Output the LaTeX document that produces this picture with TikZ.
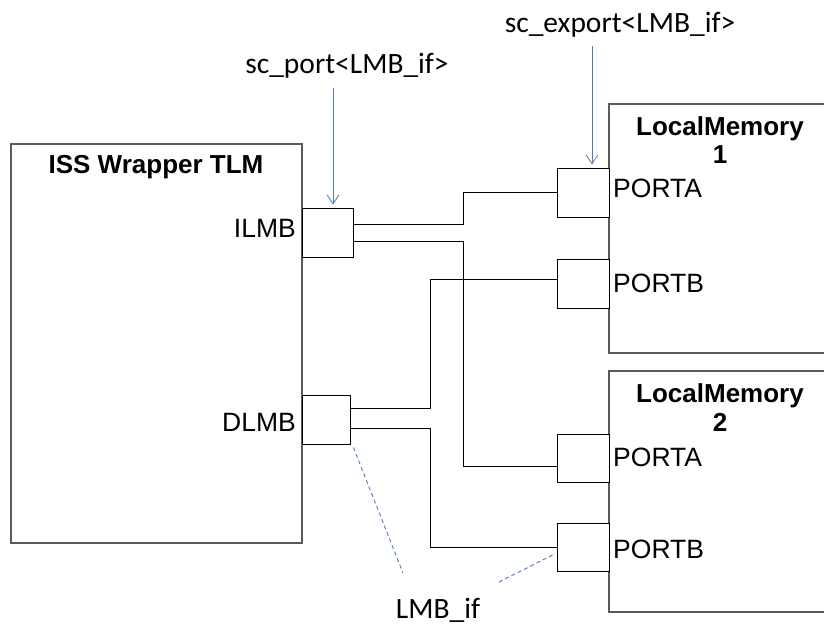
\documentclass[tikz,border=0pt]{standalone}
\usepackage{fontspec}
\setmainfont{Liberation Sans}
\newfontfamily\calfont{Carlito}
\usetikzlibrary{arrows.meta,calc}
\definecolor{boxgray}{HTML}{5A5A5A}
\definecolor{noteblue}{HTML}{4A7EBB}
\tikzset{
  block/.style={draw=boxgray, line width=1.3pt, fill=white, inner sep=0pt, rectangle},
  portbox/.style={draw=black, line width=0.9pt, fill=white, inner sep=0pt, rectangle,
                  minimum width=52pt, minimum height=49pt},
  wire/.style={draw=black, line width=0.9pt},
  pointer/.style={draw=noteblue, line width=0.8pt, shorten >=3pt,
                  -{Straight Barb[length=9pt,width=12pt]}},
  hint/.style={draw=noteblue, line width=0.9pt, dash pattern=on 4pt off 3pt},
  title/.style={font=\bfseries\fontsize{26}{30}\selectfont, inner sep=0pt, anchor=base},
  lbl/.style={font=\fontsize{26.5}{30}\selectfont, inner sep=0pt},
  note/.style={font=\calfont\fontsize{29.5}{32}\selectfont, inner sep=0pt, anchor=base}
}
\begin{document}
\begin{tikzpicture}[x=1pt, y=-1pt]
  \clip (0,0) rectangle (824,627);
  \fill[white] (0,0) rectangle (824,627);

  % main blocks
  \node[block, minimum width=291pt, minimum height=399pt] (iss) at (156.5,343.5) {};
  \node[block, minimum width=221pt, minimum height=249pt] (lm1) at (719.5,228.5) {};
  \node[block, minimum width=221pt, minimum height=241pt] (lm2) at (719.5,491.5) {};

  % block titles
  \node[title] (isst) at (156,173) {ISS Wrapper TLM};
  \node[title] (lm1t) at (720,135) {LocalMemory};
  \node[title] (lm1n) at (720,163) {1};
  \node[title] (lm2t) at (720,402) {LocalMemory};
  \node[title] (lm2n) at (720,431) {2};

  % ports
  \node[portbox, minimum width=51pt] (ilmb) at (327.5,232.5) {};
  \node[portbox, minimum width=48pt] (dlmb) at (326,419.5) {};
  \node[portbox] (m1a) at (583,192.5) {};
  \node[portbox] (m1b) at (583,283.5) {};
  \node[portbox, minimum height=48pt] (m2a) at (583,458) {};
  \node[portbox, minimum height=48pt] (m2b) at (583,547) {};

  % port labels
  \node[lbl, anchor=base east] (ilmbl) at (296,237) {ILMB};
  \node[lbl, anchor=base east] (dlmbl) at (296,431) {DLMB};
  \node[lbl, anchor=base west] (m1al) at (613,197) {PORTA};
  \node[lbl, anchor=base west] (m1bl) at (613,292) {PORTB};
  \node[lbl, anchor=base west] (m2al) at (613,466) {PORTA};
  \node[lbl, anchor=base west] (m2bl) at (613,558) {PORTB};

  % routing columns and pin points
  \coordinate (ja) at (463,0);
  \coordinate (jb) at (430,0);
  \coordinate (ilmbhi) at ([yshift=8.5pt]ilmb.east);
  \coordinate (ilmblo) at ([yshift=-8.5pt]ilmb.east);
  \coordinate (dlmbhi) at ([yshift=11.5pt]dlmb.east);
  \coordinate (dlmblo) at ([yshift=-8.5pt]dlmb.east);
  \coordinate (m1bin) at ([yshift=4.5pt]m1b.west);
  \coordinate (m2ain) at ([yshift=-8pt]m2a.west);

  % interconnect
  \draw[wire] (ilmbhi) -| (ja |- m1a.west) -- (m1a.west);
  \draw[wire] (ilmblo) -| (ja |- m2ain) -- (m2ain);
  \draw[wire] (dlmbhi) -| (jb |- m1bin) -- (m1bin);
  \draw[wire] (dlmblo) -| (jb |- m2b.west) -- (m2b.west);

  % annotations
  \node[note] (scport) at (347,73) {sc\_port<LMB\_if>};
  \node[note] (scexp) at (620,32) {sc\_export<LMB\_if>};
  \node[note] (lmbif) at (438,618) {LMB\_if};

  \coordinate (pa) at (333,88);
  \coordinate (pb) at (592,46);
  \draw[pointer] (pa) -- ([xshift=5.5pt]ilmb.north);
  \draw[pointer] (pb) -- ([xshift=9pt]m1a.north);

  \coordinate (ha) at (403,573);
  \coordinate (hb) at (497,583);
  \draw[hint] ([shift={(3pt,-3pt)}]dlmb.south east) -- (ha);
  \draw[hint] ([shift={(-4pt,-8pt)}]m2b.west) -- (hb);
\end{tikzpicture}
\end{document}
